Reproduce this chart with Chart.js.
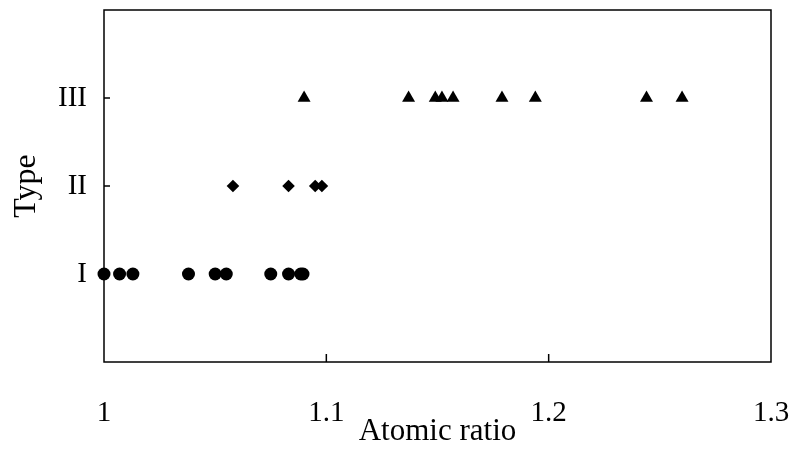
<!DOCTYPE html>
<html lang="en">
<head>
  <meta charset="UTF-8">
  <title>Atomic ratio by type</title>
  <style>
    body { margin: 0; background: #fff; }
    canvas { display: block; }
  </style>
</head>
<body>
  <canvas id="myChart" width="795" height="450"></canvas>

  <script src="https://cdn.jsdelivr.net/npm/chart.js"></script>

  <script>
    // atomic ratio values, one list per type
    const typeI = [1.000, 1.007, 1.013, 1.038, 1.050, 1.055, 1.075, 1.083, 1.0885, 1.0895];
    const typeII = [1.058, 1.083, 1.095, 1.098];
    const typeIII = [1.090, 1.137, 1.149, 1.152, 1.157, 1.179, 1.194, 1.244, 1.260];
    const typeLabels = ['', 'I', 'II', 'III', ''];
    const xTicks = [1.1, 1.2];
    const yTicks = [1, 2, 3];

    const ctx = document.getElementById('myChart').getContext('2d');
    const serif = 'Liberation Serif';

    // box around the plot plus small inward tick marks
    const frame = {
      id: 'frame',
      beforeDatasetsDraw(chart) {
        const { ctx, chartArea: a, scales } = chart;
        ctx.save();
        ctx.strokeStyle = '#000';
        ctx.lineWidth = 1.5;
        ctx.strokeRect(a.left, a.top, a.right - a.left, a.bottom - a.top);
        ctx.beginPath();
        xTicks.forEach(v => {
          const x = scales.x.getPixelForValue(v);
          ctx.moveTo(x, a.bottom);
          ctx.lineTo(x, a.bottom - 8);
        });
        yTicks.forEach(v => {
          const y = scales.y.getPixelForValue(v);
          ctx.moveTo(a.left, y);
          ctx.lineTo(a.left + 6, y);
        });
        ctx.stroke();
        ctx.restore();
      }
    };

    const toPoints = (arr, t) => arr.map(v => ({ x: v, y: t }));

    // keep edge tick labels from shrinking the plot area
    const noPad = s => { s.paddingLeft = s.paddingRight = s.paddingTop = s.paddingBottom = 0; };

    new Chart(ctx, {
      type: 'scatter',
      data: {
        datasets: [
          { label: 'I', data: toPoints(typeI, 1), pointStyle: 'circle', pointRadius: 6.5 },
          { label: 'II', data: toPoints(typeII, 2), pointStyle: 'rectRot', pointRadius: 6.3 },
          { label: 'III', data: toPoints(typeIII, 3), pointStyle: 'triangle', pointRadius: 7.5 }
        ].map(d => ({ ...d, backgroundColor: '#000', borderColor: '#000', borderWidth: 0, pointHoverRadius: d.pointRadius, clip: false }))
      },
      plugins: [frame],
      options: {
        responsive: false,
        animation: false,
        layout: { padding: { top: 10, right: 24, left: 0, bottom: 0 } },
        plugins: {
          legend: { display: false },
          tooltip: { enabled: false }
        },
        scales: {
          x: {
            type: 'linear',
            min: 1,
            max: 1.3,
            grid: { display: false, drawTicks: false },
            border: { display: false },
            ticks: {
              stepSize: 0.1,
              padding: 34,
              color: '#000',
              font: { family: serif, size: 29 },
              maxRotation: 0,
              callback: v => String(Math.round(v * 10) / 10)
            },
            title: {
              display: true,
              text: 'Atomic ratio',
              color: '#000',
              font: { family: serif, size: 31 },
              padding: { top: -4, bottom: 0 }
            },
            afterFit(scale) { scale.height = 88; noPad(scale); }
          },
          y: {
            type: 'linear',
            min: 0,
            max: 4,
            grid: { display: false, drawTicks: false },
            border: { display: false },
            ticks: {
              stepSize: 1,
              padding: 17,
              color: '#000',
              font: { family: serif, size: 29 },
              callback: v => typeLabels[v] || ''
            },
            title: {
              display: true,
              text: 'Type',
              color: '#000',
              font: { family: serif, size: 32 },
              padding: { top: 7, bottom: 4 }
            },
            afterFit(scale) { scale.width = 104; noPad(scale); }
          }
        }
      }
    });
  </script>
</body>
</html>
